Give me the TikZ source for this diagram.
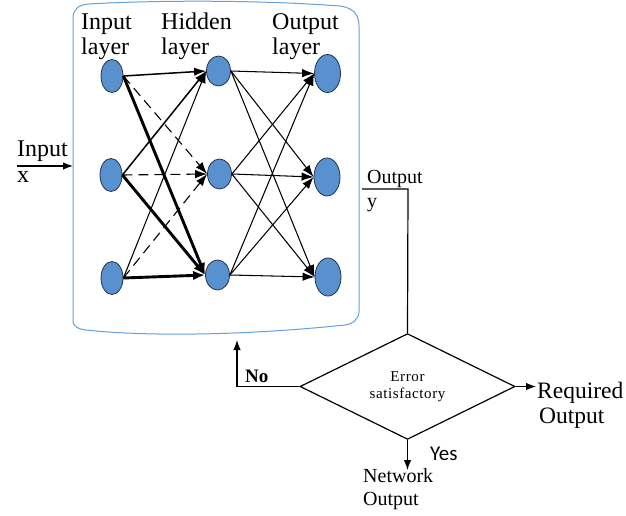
\documentclass[tikz,border=0pt]{standalone}
\usepackage{fontspec}
\setmainfont{Liberation Serif}
\newfontfamily\errfont[LetterSpace=4]{Liberation Serif}
\newfontfamily\yesfont{Carlito}
\usetikzlibrary{arrows.meta,shapes.geometric}
\definecolor{nodeblue}{RGB}{88,145,205}
\definecolor{nodeedge}{RGB}{35,50,75}
\definecolor{boxblue}{RGB}{100,160,215}
\tikzset{
  neuron/.style={ellipse,draw=nodeedge,line width=0.8pt,fill=nodeblue,inner sep=0pt},
  inn/.style={neuron,minimum width=22pt,minimum height=33pt},
  hid/.style={neuron,minimum width=24pt,minimum height=30pt},
  outn/.style={neuron,minimum width=26pt,minimum height=38pt},
  lbl/.style={inner sep=0pt,align=left,font=\fontsize{24}{24.5}\selectfont,anchor=base west},
  thinw/.style={line width=1.05pt,-{Latex[length=12pt,width=8.5pt]}},
  medw/.style={line width=1.5pt,-{Latex[length=12pt,width=8.5pt]}},
  thickw/.style={line width=2.9pt,-{Latex[length=12pt,width=9.5pt]}},
  dashw/.style={line width=1.1pt,dash pattern=on 10pt off 6pt,-{Latex[length=12pt,width=8.5pt]}},
  flow/.style={line width=1.2pt},
  flowarr/.style={line width=1.2pt,-{Latex[length=10pt,width=7.5pt]}}
}
\begin{document}
\begin{tikzpicture}[x=1pt,y=-1pt]
\useasboundingbox (0,0) rectangle (626,516);
% container
\draw[boxblue,line width=1pt] (73,18) -- (73,320) .. controls (73,327) and (78,329) .. (86,330)
  .. controls (150,337) and (250,335) .. (345,325) .. controls (353,324) and (359,319) .. (359,311)
  -- (359,26) .. controls (359,13) and (352,8) .. (340,6) .. controls (260,0) and (160,0) .. (88,4)
  .. controls (79,5) and (73,9) .. (73,18) -- cycle;
% labels (base = last line)
\node[lbl] (linput) at (81,54.5) {Input\\layer};
\node[lbl] (lhidden) at (161,54.5) {Hidden\\layer};
\node[lbl] (loutput) at (272,54.5) {Output\\layer};
% neurons
\node[inn] (I1) at (112,76) {};
\node[inn] (I2) at (111,175) {};
\node[inn] (I3) at (112,278) {};
\node[hid] (H1) at (218.5,71) {};
\node[hid] (H2) at (219.5,174) {};
\node[hid] (H3) at (217.5,275) {};
\node[outn] (O1) at (327.5,73.5) {};
\node[outn] (O2) at (327,177) {};
\node[outn] (O3) at (328,277) {};
% input -> hidden
\draw[medw] (I1.east) -- (H1.west);
\draw[dashw] (I1.east) -- (H2.west);
\draw[thickw] (I1.east) -- (H3.west);
\draw[medw] (I2.east) -- (H1.west);
\draw[dashw] (I2.east) -- (H2.west);
\draw[thickw] (I2.east) -- (H3.west);
\draw[thinw] (I3.east) -- (H1.west);
\draw[dashw] (I3.east) -- (H2.west);
\draw[thickw] (I3.east) -- (H3.west);
% hidden -> output
\foreach \h in {H1,H2,H3}{
  \foreach \o in {O1,O2,O3}{
    \draw[thinw] (\h.east) -- (\o.west);
  }
}
% input x
\node[lbl,font=\fontsize{24}{26}\selectfont] (inx) at (17,182) {Input\\x};
\coordinate (inxs) at (17,166);
\coordinate (boxin) at (73,166);
\draw[flowarr] (inxs) -- (boxin);
% output y
\node[lbl,font=\fontsize{20}{24}\selectfont] (outy) at (367,207) {Output\\y};
\coordinate (outys) at (362,189);
\coordinate (outyc) at (408,189);
% decision
\node[diamond,draw,line width=1.2pt,minimum width=215pt,minimum height=103pt,inner sep=0pt,
      align=center,font=\errfont\fontsize{15}{17}\selectfont] (dia) at (407.5,386.5) {Error\\satisfactory};
\draw[flow] (outys) -- (outyc) -- (dia.north);
% no branch
\coordinate (noend) at (237,340);
\draw[flowarr] (dia.west) -| (noend);
\node[lbl,font=\bfseries\fontsize{19}{22}\selectfont] (no) at (245,382) {No};
% required output
\coordinate (reqend) at (536,386.5);
\draw[flowarr] (dia.east) -- (reqend);
\node[lbl,font=\fontsize{23.5}{25}\selectfont] (req) at (537,423) {Required\\\hspace*{2pt}Output};
% yes branch
\coordinate (yesend) at (407.5,470);
\draw[flowarr] (dia.south) -- (yesend);
\node[lbl,font=\yesfont\fontsize{21}{24}\selectfont] (yes) at (430,460) {Yes};
\node[lbl,font=\fontsize{20}{23}\selectfont] (net) at (363,505) {Network\\Output};
\end{tikzpicture}
\end{document}
